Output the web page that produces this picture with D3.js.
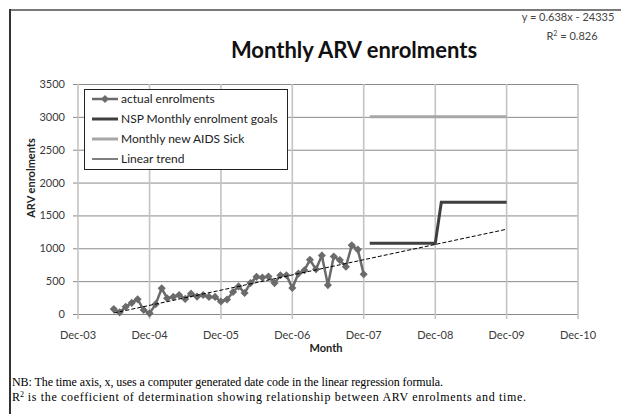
<!DOCTYPE html>
<html>
<head>
<meta charset="utf-8">
<script src="https://cdn.jsdelivr.net/npm/d3@7"></script>
<style>
  body { margin: 0; background: #fff; }
  svg { display: block; }
</style>
</head>
<body>
<div id="chart"></div>
<script>
// monthly actual enrolments, Jun-04 .. Dec-07
const firstMonth = "2004-06";
const enrolments = [
  75, 25, 110, 170, 225, 60, 10,
  150, 390, 240, 260, 290, 230, 310, 265, 290, 260, 260, 190,
  220, 335, 420, 320, 470, 565, 555, 570, 470, 590, 590, 395,
  615, 665, 825, 680, 890, 440, 875, 820, 720, 1045, 980, 605
];
const goalDates = ["2008-01", "2008-12", "2009-01", "2009-12"];
const goalValues = [1075, 1075, 1700, 1700];
const aidsDates = ["2008-01", "2009-12"];
const aidsValues = [3000, 3000];
const trendDates = ["2004-06", "2009-12"];
const trendValues = [15, 1290];
const yTicks = [0, 500, 1000, 1500, 2000, 2500, 3000, 3500];
const xTickDates = ["2003-12", "2004-12", "2005-12", "2006-12", "2007-12", "2008-12", "2009-12", "2010-12"];
const legendLabels = ["actual enrolments", "NSP Monthly enrolment goals", "Monthly new AIDS Sick", "Linear trend"];

const parse = d3.timeParse("%Y-%m");
const W = 621, H = 414;
const svg = d3.select("#chart").append("svg").attr("width", W).attr("height", H);

// frame
svg.append("line").attr("x1", 10).attr("x2", W).attr("y1", 10).attr("y2", 10)
  .attr("stroke", "#7a7a7a").attr("stroke-width", 2);
svg.append("line").attr("x1", 10).attr("x2", 10).attr("y1", 9).attr("y2", H)
  .attr("stroke", "#333").attr("stroke-width", 2);

const x = d3.scaleTime().domain([parse("2003-12"), parse("2010-12")]).range([78, 578]);
const y = d3.scaleLinear().domain([0, 3500]).range([314, 84]);

const font = "Lato, 'Open Sans', sans-serif";

// gridlines
svg.append("g").selectAll("line").data(yTicks).join("line")
  .attr("x1", 73).attr("x2", 578)
  .attr("y1", (d) => y(d) + 0.5).attr("y2", (d) => y(d) + 0.5)
  .attr("stroke", "#8a8a8a").attr("stroke-width", 1);
svg.append("g").selectAll("line").data(xTickDates.map(parse)).join("line")
  .attr("x1", (d) => x(d)).attr("x2", (d) => x(d))
  .attr("y1", 84).attr("y2", 319)
  .attr("stroke", "#c4c4c4").attr("stroke-width", 1.6);

// axis labels
svg.append("g").selectAll("text").data(yTicks).join("text")
  .attr("x", 65).attr("y", (d) => y(d) + 4)
  .attr("text-anchor", "end")
  .style("font", `11px ${font}`).attr("fill", "#3a3a3a")
  .text((d) => d);
svg.append("g").selectAll("text").data(xTickDates.map(parse)).join("text")
  .attr("x", (d) => x(d)).attr("y", 339)
  .attr("text-anchor", "middle")
  .style("font", `11px ${font}`).attr("fill", "#3a3a3a")
  .text(d3.timeFormat("%b-%y"));

svg.append("text").attr("x", 326).attr("y", 352).attr("text-anchor", "middle")
  .style("font", `bold 11px ${font}`).attr("fill", "#222").text("Month");
svg.append("text").attr("transform", "translate(35,178) rotate(-90)")
  .attr("text-anchor", "middle")
  .style("font", `bold 11px ${font}`).attr("fill", "#222").text("ARV enrolments");

// title and regression text
svg.append("text").attr("x", 354).attr("y", 58).attr("text-anchor", "middle")
  .style("font", `bold 22px ${font}`).attr("fill", "#111").text("Monthly ARV enrolments");
svg.append("text").attr("x", 568).attr("y", 21).attr("text-anchor", "middle")
  .style("font", `11px ${font}`).attr("fill", "#444").text("y = 0.638x - 24335");
const r2 = svg.append("text").attr("x", 572).attr("y", 40).attr("text-anchor", "middle")
  .style("font", `11px ${font}`).attr("fill", "#444");
r2.append("tspan").text("R");
r2.append("tspan").attr("dy", -4).style("font-size", "7px").text("2");
r2.append("tspan").attr("dy", 4).text(" = 0.826");

// series
const start = parse(firstMonth);
const actual = enrolments.map((v, i) => ({ date: d3.timeMonth.offset(start, i), value: v }));
const pairs = (dates, values) => dates.map((d, i) => ({ date: parse(d), value: values[i] }));
const line = d3.line().x((d) => x(d.date)).y((d) => y(d.value));

svg.append("path").datum(pairs(aidsDates, aidsValues)).attr("d", line)
  .attr("fill", "none").attr("stroke", "#a6a6a6").attr("stroke-width", 3);
svg.append("path").datum(pairs(goalDates, goalValues)).attr("d", line)
  .attr("fill", "none").attr("stroke", "#3f3f3f").attr("stroke-width", 3);
svg.append("path").datum(actual).attr("d", line)
  .attr("fill", "none").attr("stroke", "#6b6b6b").attr("stroke-width", 2.5);
svg.append("g").selectAll("path").data(actual).join("path")
  .attr("d", d3.symbol(d3.symbolDiamond2, 42))
  .attr("transform", (d) => `translate(${x(d.date)},${y(d.value)})`)
  .attr("fill", "#6b6b6b");
svg.append("path").datum(pairs(trendDates, trendValues)).attr("d", line)
  .attr("fill", "none").attr("stroke", "#000").attr("stroke-width", 1)
  .attr("stroke-dasharray", "4,2");

// legend
const legend = svg.append("g").attr("transform", "translate(84,89)");
legend.append("rect").attr("x", 0.5).attr("y", 0.5).attr("width", 203).attr("height", 80)
  .attr("fill", "#fff").attr("stroke", "#222").attr("stroke-width", 1);
const legendStroke = [
  { c: "#6b6b6b", w: 2.5 }, { c: "#3f3f3f", w: 3 }, { c: "#a6a6a6", w: 3 }, { c: "#000", w: 1 }
];
legendLabels.forEach((label, i) => {
  const row = legend.append("g").attr("transform", `translate(0,${10 + i * 20})`);
  row.append("line").attr("x1", 8).attr("x2", 34).attr("y1", 0).attr("y2", 0)
    .attr("stroke", legendStroke[i].c).attr("stroke-width", legendStroke[i].w);
  if (i === 0) {
    row.append("path").attr("d", d3.symbol(d3.symbolDiamond2, 42))
      .attr("transform", "translate(21,0)").attr("fill", "#6b6b6b");
  }
  row.append("text").attr("x", 37).attr("y", 4)
    .style("font", `12px ${font}`).attr("fill", "#222").text(label);
});

// footnote
const serif = "'Liberation Serif', 'DejaVu Serif', serif";
svg.append("text").attr("x", 12).attr("y", 386)
  .attr("textLength", 431).attr("lengthAdjust", "spacing")
  .style("font", `12px ${serif}`).attr("fill", "#000")
  .text("NB: The time axis, x, uses a computer generated date code in the linear regression formula.");
const note2 = svg.append("text").attr("x", 12).attr("y", 401)
  .style("font", `12px ${serif}`).attr("fill", "#000");
note2.append("tspan").text("R");
note2.append("tspan").attr("dy", -4).style("font-size", "8px").text("2");
note2.append("tspan").attr("dy", 4)
  .attr("textLength", 502).attr("lengthAdjust", "spacing")
  .text(" is the coefficient of determination showing relationship between ARV enrolments and time.");
</script>
</body>
</html>
